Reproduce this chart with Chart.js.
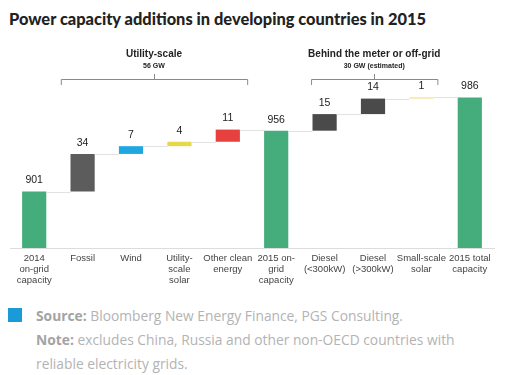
<!DOCTYPE html>
<html>
<head>
<meta charset="utf-8">
<script src="https://cdn.jsdelivr.net/npm/chart.js@4"></script>
<style>
  body { margin: 0; background: #fff; width: 509px; height: 375px; overflow: hidden; position: relative; }
  #title { position: absolute; left: 9px; top: 9px; font: 900 16.4px Lato, sans-serif; color: #222; white-space: nowrap; }
  #wrap { position: absolute; left: 0; top: 0; width: 509px; height: 300px; }
  #foot { position: absolute; left: 36px; top: 304px; font: 13.8px "Open Sans", sans-serif; color: #b3b3b3; line-height: 24px; }
  #foot b { color: #a3a3a3; }
  #sq { position: absolute; left: 8px; top: 308px; width: 14px; height: 14px; background: #1a9ad6; }
</style>
</head>
<body>
<div id="title">Power capacity additions in developing countries in 2015</div>
<div id="wrap"><canvas id="chart"></canvas></div>
<div id="sq"></div>
<div id="foot">
  <div><b>Source:</b> Bloomberg New Energy Finance, PGS Consulting.</div>
  <div><b>Note:</b> excludes China, Russia and other non-OECD countries with</div>
  <div>reliable electricity grids.</div>
</div>
<script>
// categorias y valores
const categories = [
  ["2014", "on-grid", "capacity"], "Fossil", "Wind", ["Utility-", "scale", "solar"],
  ["Other clean", "energy"], ["2015 on-", "grid", "capacity"], ["Diesel", "(<300kW)"],
  ["Diesel", "(>300kW)"], ["Small-scale", "solar"], ["2015 total", "capacity"]
];
const values = [901, 34, 7, 4, 11, 956, 15, 14, 1, 986];
const isTotal = [true, false, false, false, false, true, false, false, false, true];
const barColors = ["#45ad7c", "#5c5c5c", "#1fa7df", "#e6d84a", "#e6403f", "#45ad7c",
  "#4a4a4a", "#4a4a4a", "#f0dc86", "#45ad7c"];

// grupos (llaves) arriba
const groups = [
  { title: "Utility-scale", sub: "56 GW", from: 0.55, to: 4.4 },
  { title: "Behind the meter or off-grid", sub: "30 GW (estimated)", from: 5.72, to: 8.33 }
];

// rangos flotantes del waterfall
let running = 0;
const ranges = values.map((v, i) => {
  if (isTotal[i]) { running = v; return [850, v]; }
  const r = [running, running + v];
  running += v;
  return r;
});

const waterfallExtras = {
  id: "waterfallExtras",
  afterDatasetsDraw(chart) {
    const ctx = chart.ctx;
    const meta = chart.getDatasetMeta(0);
    const y = chart.scales.y;
    const x = chart.scales.x;
    ctx.save();
    // lineas conectoras
    ctx.strokeStyle = "#e2e2e2";
    ctx.lineWidth = 1;
    for (let i = 0; i < meta.data.length - 1; i++) {
      const a = meta.data[i], b = meta.data[i + 1];
      const yy = Math.round(y.getPixelForValue(ranges[i][1])) + 0.5;
      ctx.beginPath();
      ctx.moveTo(a.x + a.width / 2, yy);
      ctx.lineTo(b.x - b.width / 2, yy);
      ctx.stroke();
    }
    // etiquetas de valor
    ctx.fillStyle = "#222";
    ctx.font = "10.5px 'Liberation Sans', Arial, sans-serif";
    ctx.textAlign = "center";
    ctx.textBaseline = "middle";
    meta.data.forEach((bar, i) => {
      ctx.fillText(values[i], bar.x, y.getPixelForValue(ranges[i][1]) - 11);
    });
    // llaves de grupo
    groups.forEach((g) => {
      const x1 = x.getPixelForValue(g.from), x2 = x.getPixelForValue(g.to);
      const cx = (x1 + x2) / 2;
      ctx.strokeStyle = "#8a8a8a";
      ctx.beginPath();
      ctx.moveTo(x1 + 0.5, 85);
      ctx.lineTo(x1 + 0.5, 79.5);
      ctx.lineTo(x2 + 0.5, 79.5);
      ctx.lineTo(x2 + 0.5, 85);
      ctx.moveTo(Math.round(cx) + 0.5, 79.5);
      ctx.lineTo(Math.round(cx) + 0.5, 74);
      ctx.stroke();
      ctx.fillStyle = "#222";
      ctx.font = "bold 10px 'Liberation Sans', Arial, sans-serif";
      ctx.fillText(g.title, cx, 54);
      ctx.font = "bold 7px 'Liberation Sans', Arial, sans-serif";
      ctx.fillText(g.sub, cx, 66);
    });
    ctx.restore();
  }
};

new Chart(document.getElementById("chart"), {
  type: "bar",
  data: {
    labels: categories,
    datasets: [{
      data: ranges,
      backgroundColor: barColors,
      borderWidth: 0,
      borderSkipped: false,
      barPercentage: 0.5,
      categoryPercentage: 1
    }]
  },
  options: {
    responsive: true,
    maintainAspectRatio: false,
    animation: false,
    layout: { padding: { left: 10, right: 15, top: 82, bottom: 0 } },
    plugins: { legend: { display: false }, tooltip: { enabled: false } },
    scales: {
      x: {
        grid: { display: false, drawTicks: false },
        border: { display: true, color: "#dcdcdc" },
        ticks: {
          color: "#444",
          padding: 5,
          maxRotation: 0,
          autoSkip: false,
          font: { family: "'Liberation Sans', Arial, sans-serif", size: 9.5, lineHeight: 1.15 }
        },
        afterFit(axis) { axis.height = 52; }
      },
      y: { display: false, min: 850, max: 1000 }
    }
  },
  plugins: [waterfallExtras]
});
</script>
</body>
</html>
